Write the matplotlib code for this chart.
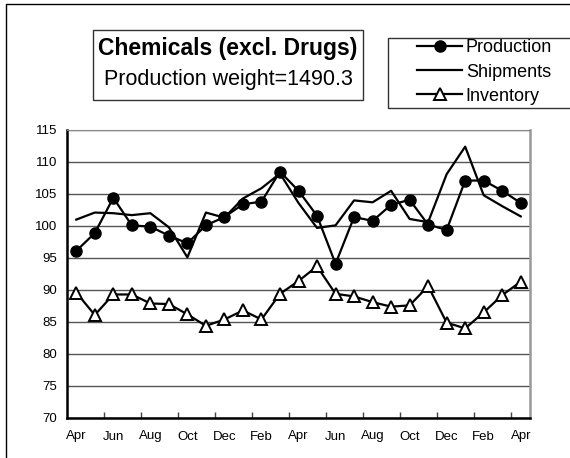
import numpy as np
import matplotlib
matplotlib.use("Agg")
import matplotlib.pyplot as plt
from matplotlib.patches import Rectangle
from matplotlib.lines import Line2D

plt.rcParams['font.family'] = ['Liberation Sans', 'DejaVu Sans']

# data (index, 2 years of months Apr..Apr)
months = ["Apr", "May", "Jun", "Jul", "Aug", "Sep", "Oct", "Nov", "Dec", "Jan", "Feb", "Mar",
          "Apr", "May", "Jun", "Jul", "Aug", "Sep", "Oct", "Nov", "Dec", "Jan", "Feb", "Mar", "Apr"]
production = [96.1, 98.9, 104.4, 100.1, 99.9, 98.5, 97.3, 100.1, 101.4, 103.4, 103.8, 108.5,
              105.5, 101.6, 94.1, 101.4, 100.8, 103.3, 104.1, 100.2, 99.4, 107.1, 107.1, 105.5, 103.6]
shipments = [101.0, 102.1, 102.0, 101.7, 102.0, 99.8, 95.1, 102.1, 101.3, 104.3, 105.9, 108.2,
             103.6, 99.7, 100.1, 104.0, 103.7, 105.5, 101.1, 100.6, 108.1, 112.4, 104.8, 103.1, 101.5]
inventory = [89.6, 86.1, 89.3, 89.3, 87.9, 87.8, 86.2, 84.4, 85.4, 86.8, 85.4, 89.4,
             91.4, 93.7, 89.4, 89.0, 88.1, 87.4, 87.6, 90.6, 84.9, 84.0, 86.5, 89.2, 91.3]
yticks = [70, 75, 80, 85, 90, 95, 100, 105, 110, 115]

W, H = 570, 458
fig = plt.figure(figsize=(W / 100, H / 100), dpi=100)
ax = fig.add_axes([67 / W, 1 - 418 / H, (530 - 67) / W, (418 - 130) / H])

x = np.arange(len(months))
ax.plot(x, production, color='black', lw=1.6, marker='o', ms=8, mfc='black', mec='black',
        label='Production', zorder=4)
ax.plot(x, shipments, color='black', lw=1.6, label='Shipments', zorder=3)
ax.plot(x, inventory, color='black', lw=1.6, marker='^', ms=8, mfc='white', mec='black',
        mew=1.4, label='Inventory', zorder=4)

ax.set_xlim(-0.5, len(months) - 0.5)
ax.set_ylim(70, 115)
ax.set_yticks(yticks)
ax.tick_params(axis='y', length=0, labelsize=9.5, pad=7)
ax.set_xticks(x[::2])
ax.set_xticklabels(months[::2])
ax.set_xticks(np.arange(1.5, len(months) - 1, 2), minor=True)
ax.tick_params(axis='x', which='major', length=0, labelsize=9.5, pad=9)
ax.tick_params(axis='x', which='minor', direction='in', length=4, width=1, color='#444444')
ax.grid(axis='y', color='#555555', lw=1)
ax.set_axisbelow(True)
for s in ['left', 'bottom']:
    ax.spines[s].set_linewidth(1.8)
    ax.spines[s].set_color('black')
ax.spines['right'].set_color('#999999')
ax.spines['right'].set_linewidth(1.8)
ax.spines['top'].set_color('#888888')

# title box
fig.patches.append(Rectangle((93 / W, 1 - 100 / H), (363 - 93) / W, 70 / H, transform=fig.transFigure,
                             fill=False, edgecolor='#333333', lw=1))
fig.text(228 / W, 1 - 49 / H, "Chemicals (excl. Drugs)", ha='center', va='center',
         fontsize=16.5, fontweight='bold')
fig.text(228 / W, 1 - 79 / H, "Production weight=1490.3", ha='center', va='center', fontsize=15.5)

# legend box
fig.patches.append(Rectangle((388 / W, 1 - 108 / H), 200 / W, 70 / H, transform=fig.transFigure,
                             fill=False, edgecolor='#333333', lw=1, clip_on=False))
fig.legend(loc='center left', bbox_to_anchor=(408 / W, 1 - 72 / H), frameon=False, borderpad=0,
           fontsize=13, handlelength=2.5, handletextpad=0.2, labelspacing=0.4)

# outer border (left and top)
fig.add_artist(Line2D([6 / W, 6 / W, 1], [0, 1 - 4 / H, 1 - 4 / H], transform=fig.transFigure,
                      color='black', lw=1))

fig.savefig("out.png", dpi=100)
